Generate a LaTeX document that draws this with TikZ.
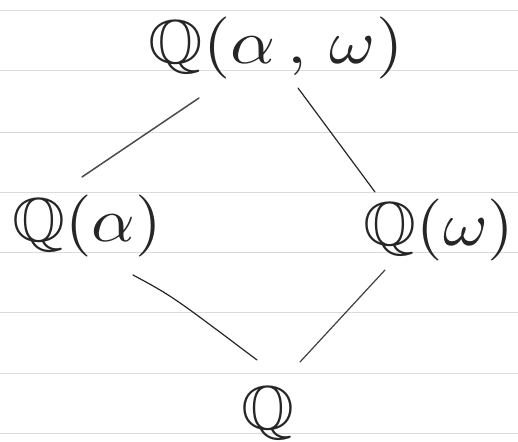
\documentclass[tikz,border=0pt]{standalone}
\usepackage{amssymb}
\begin{document}
\begin{tikzpicture}[x=1pt,y=1pt,
  field/.style={inner sep=0pt, text=black!85},
  link/.style={draw=black!85, line width=1.2pt, line cap=round},
  ruling/.style={draw=black!14, line width=0.8pt}]
  % page and its ruled lines
  \fill[white] (0,0) rectangle (518,441);
  \useasboundingbox (0,0) rectangle (518,441);
  \foreach \yy in {431,371,309,249,189,129,68,8}
    \draw[ruling] (0,\yy) -- (518,\yy);
  % the fields of the tower, typeset at 10pt and enlarged
  \node[field] (qaw) at (276,393) {\scalebox{7.0}[6.2]{$\mathbb{Q}(\alpha\,,\,\omega)$}};
  \node[field] (qa)  at (87,215)  {\scalebox{6.8}[6.2]{$\mathbb{Q}(\alpha)$}};
  \node[field] (qw)  at (439,211) {\scalebox{6.8}[6.2]{$\mathbb{Q}(\omega)$}};
  \node[field] (q)   at (268,28)  {\scalebox{6.8}[6.2]{$\mathbb{Q}$}};
  % inclusions
  \draw[link, draw=black!70, line width=1.5pt]
    ([shift={(-77,-50)}]qaw.center) -- ([shift={(-5,49)}]qa.center);
  \draw[link] ([shift={(22,-40)}]qaw.center) -- ([shift={(-64,38)}]qw.center);
  \draw[link] ([shift={(46,-49)}]qa.center) .. controls ([shift={(85,-70)}]qa.center) .. ([shift={(-11,53)}]q.center);
  \draw[link, draw=black!75] ([shift={(-54,-40)}]qw.center) -- ([shift={(32,51)}]q.center);
\end{tikzpicture}
\end{document}
